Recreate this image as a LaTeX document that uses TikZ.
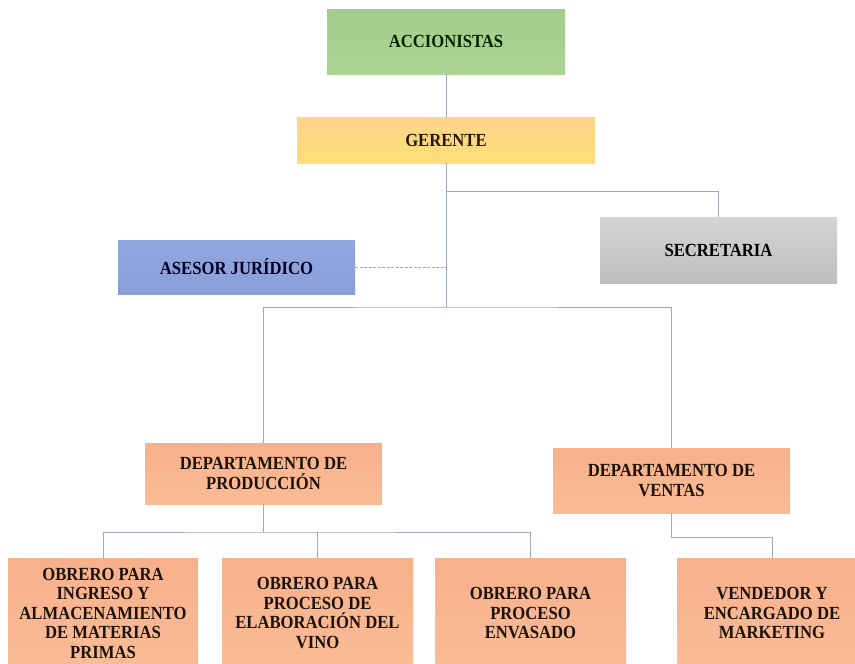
\documentclass[tikz,border=0pt]{standalone}
\usepackage{fontspec}
\setmainfont{Liberation Serif}[FakeStretch=0.9]
\begin{document}
\begin{tikzpicture}[x=1pt,y=-1pt,
  unit/.style={inner sep=2pt, align=center, font=\fontsize{18.5}{19.5}\selectfont\bfseries},
  greenbox/.style={unit, top color=cgreen, bottom color=cgreen2, text=black!85!green},
  yellowbox/.style={unit, top color=cyellow, bottom color=cyellow2, text=black!80!brown},
  bluebox/.style={unit, top color=cblue, bottom color=cblue2, text=black!85!blue},
  graybox/.style={unit, top color=cgray, bottom color=cgray2, text=black},
  orangebox/.style={unit, top color=corange, bottom color=corange2, text=black!85!brown},
  link/.style={draw=clink, line width=0.9pt},
  dashlink/.style={link, dashed, dash pattern=on 3pt off 1.5pt}
]
\definecolor{cgreen}{RGB}{163,205,140}
\definecolor{cgreen2}{RGB}{172,212,148}
\definecolor{cyellow}{RGB}{253,212,138}
\definecolor{cyellow2}{RGB}{254,222,120}
\definecolor{cblue}{RGB}{146,166,224}
\definecolor{cblue2}{RGB}{138,158,214}
\definecolor{cgray}{RGB}{212,212,212}
\definecolor{cgray2}{RGB}{190,190,190}
\definecolor{corange}{RGB}{246,176,140}
\definecolor{corange2}{RGB}{250,188,150}
\definecolor{clink}{RGB}{160,168,192}

\useasboundingbox[fill=white] (0,0) rectangle (855,664);

% top of the chart
\node[greenbox, minimum width=238pt, minimum height=65pt] (acc) at (446,41.5) {ACCIONISTAS};
\node[yellowbox, minimum width=298pt, minimum height=46pt] (ger) at (446,140) {GERENTE};

% staff positions
\node[bluebox, minimum width=237pt, minimum height=54pt] (ase) at (236.5,267) {ASESOR JURÍDICO};
\node[graybox, minimum width=237pt, minimum height=66pt] (sec) at (718.5,250) {SECRETARIA};

% departments
\node[orangebox, minimum width=237pt, minimum height=61pt] (dprod) at (263.5,473.5) {DEPARTAMENTO DE\\PRODUCCIÓN};
\node[orangebox, minimum width=237pt, minimum height=65pt] (dven) at (671.5,480.5) {DEPARTAMENTO DE\\VENTAS};

% workers
\node[orangebox, anchor=north, minimum width=190pt, minimum height=110pt] (ob1) at (103,558) {OBRERO PARA\\INGRESO Y\\ALMACENAMIENTO\\DE MATERIAS\\PRIMAS};
\node[orangebox, anchor=north, minimum width=191pt, minimum height=110pt] (ob2) at (317.5,558) {OBRERO PARA\\PROCESO DE\\ELABORACIÓN DEL\\VINO};
\node[orangebox, anchor=north, minimum width=191pt, minimum height=110pt] (ob3) at (530.5,558) {OBRERO PARA\\PROCESO\\ENVASADO};
\node[orangebox, anchor=north, minimum width=190pt, minimum height=110pt] (ob4) at (772,558) {VENDEDOR Y\\ENCARGADO DE\\MARKETING};

% junction points
\coordinate (sectap) at (446,191);
\coordinate (hub) at (446,307);
\coordinate (pbar) at (263.5,532);
\coordinate (vbar) at (772,537);

% connectors
\draw[link] (acc.south) -- (ger.north);
\draw[link] (ger.south) -- (hub);
\draw[link] (sectap) -| (sec.north);
\draw[dashlink] (ase.east) -- (ase.east -| hub);
\draw[link] (dprod.north) |- (hub) -| (dven.north);
\draw[link] (dprod.south) -- (pbar);
\draw[link] (ob1.north) |- (pbar) -| (ob3.north);
\draw[link] (pbar -| ob2.north) -- (ob2.north);
\draw[link] (dven.south) |- (vbar) -- (ob4.north);
\end{tikzpicture}
\end{document}
